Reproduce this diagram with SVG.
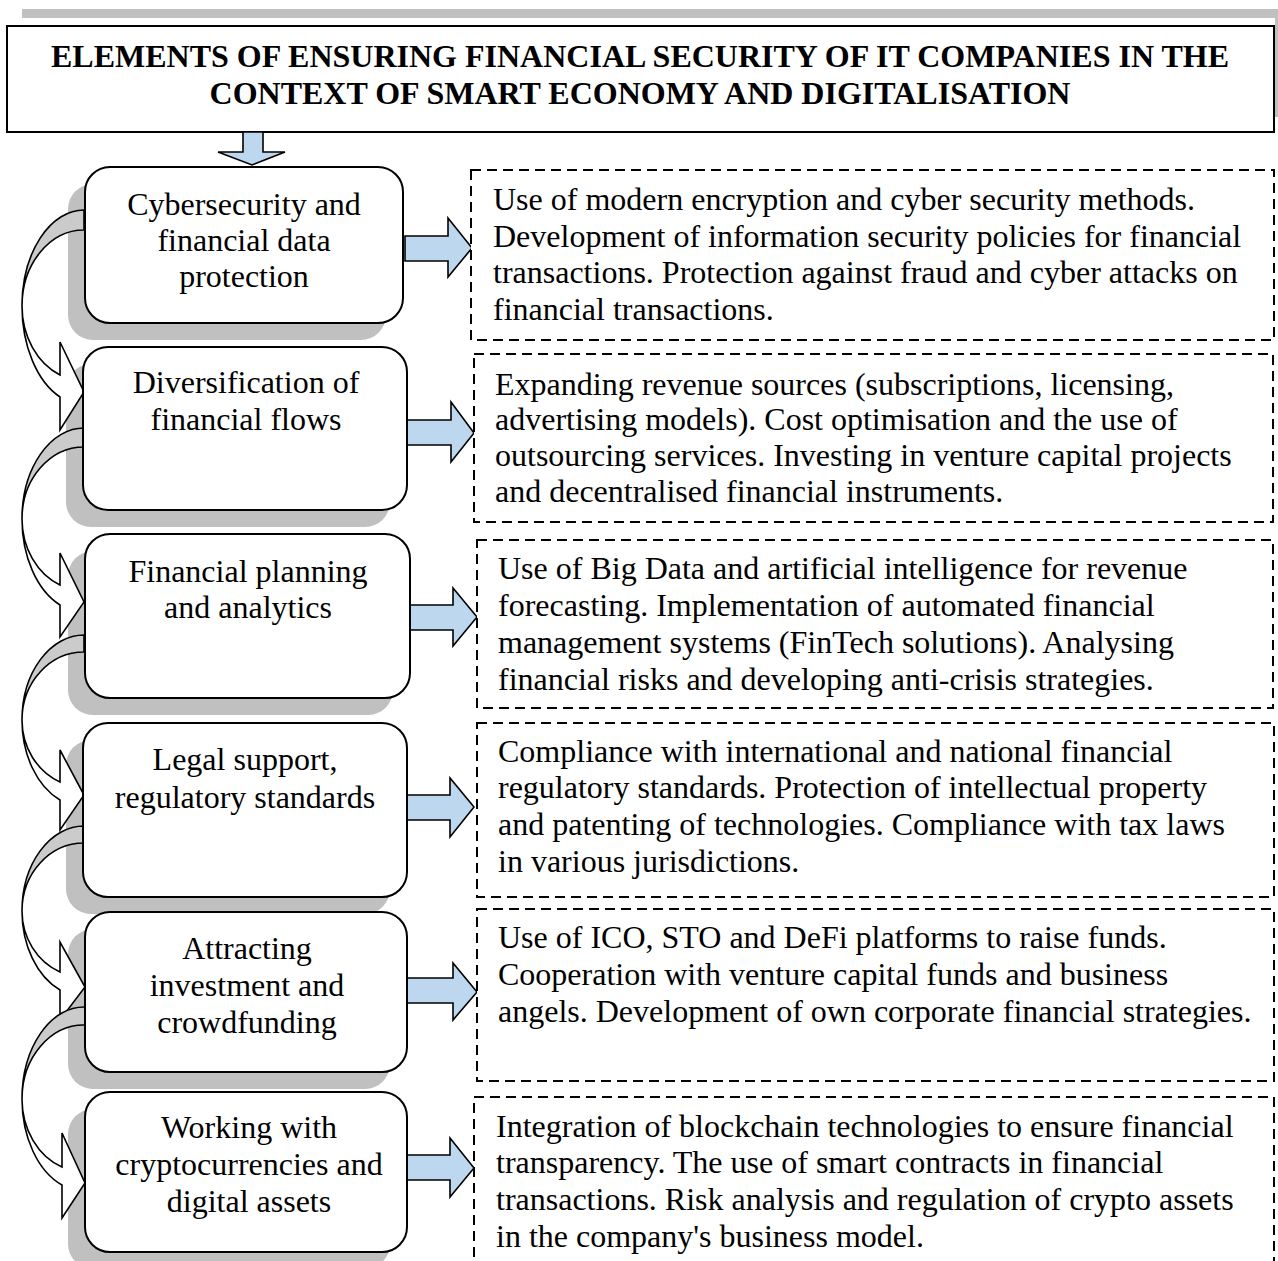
<svg xmlns="http://www.w3.org/2000/svg" width="1278" height="1261" viewBox="0 0 1278 1261">
  <style>
    .t { font-family: "Liberation Serif", "Times New Roman", serif; font-size: 32px; fill: #000; }
    .title { font-weight: bold; text-anchor: middle; }
    .node-text { text-anchor: middle; }
    .node { fill: #fff; stroke: #000; stroke-width: 2; }
    .shadow { fill: #c0c0c0; }
    .detail { fill: #fff; stroke: #000; stroke-width: 2; stroke-dasharray: 10 6; }
    .block { fill: #bdd7ee; stroke: #000; stroke-width: 1.6; stroke-linejoin: miter; }
    .back { fill: #cbcbcb; stroke: #000; stroke-width: 1.6; }
    .front { fill: #fff; stroke: #000; stroke-width: 1.6; stroke-linejoin: miter; }
  </style>

  <!-- title banner -->
  <g id="title">
    <rect x="22" y="9" width="1256" height="9" fill="#c0c0c0"/>
    <rect x="1275" y="18" width="3" height="99" fill="#c0c0c0"/>
    <rect x="7" y="26" width="1267" height="106" fill="#fff" stroke="#000" stroke-width="2"/>
    <text class="t title" x="640" y="67">ELEMENTS OF ENSURING FINANCIAL SECURITY OF IT COMPANIES IN THE</text>
    <text class="t title" x="640" y="104">CONTEXT OF SMART ECONOMY AND DIGITALISATION</text>
  </g>

  <!-- node shadows -->
  <g id="shadows">
    <rect class="shadow" x="68" y="184" width="318" height="156" rx="25"/>
    <rect class="shadow" x="66" y="364" width="324" height="163" rx="25"/>
    <rect class="shadow" x="68" y="551" width="325" height="164" rx="25"/>
    <rect class="shadow" x="66" y="740" width="324" height="174" rx="25"/>
    <rect class="shadow" x="68" y="929" width="322" height="160" rx="25"/>
    <rect class="shadow" x="68" y="1109" width="322" height="160" rx="25"/>
  </g>

  <!-- connectors -->
  <g id="connectors">
    <!-- downward block arrow from the title -->
    <polygon class="block" points="243,132 263,132 263,152 285,152 252,165 218,152 243,152"/>

    <!-- curved arrows linking consecutive elements -->
    <path class="back" d="M84 210 A62 96 0 0 0 22 306 A62 76 0 0 1 84 230 Z"/>
    <path class="front" d="M22 306 A62 98.7 0 0 0 60 397 L60 430 L84 392 L60 342 L60 375 A62 74.8 0 0 1 22 306 Z"/>

    <path class="back" d="M84 428 A62 91 0 0 0 22 519 A62 72 0 0 1 84 447 Z"/>
    <path class="front" d="M22 519 A62 93.3 0 0 0 60 605 L60 637 L84 602 L60 553 L60 585 A62 71.6 0 0 1 22 519 Z"/>

    <path class="back" d="M84 635 A62 85 0 0 0 22 720 A62 68 0 0 1 84 652 Z"/>
    <path class="front" d="M22 720 A62 86.8 0 0 0 60 800 L60 830 L84 795 L60 750 L60 782 A62 67.2 0 0 1 22 720 Z"/>

    <path class="back" d="M84 826 A62 85 0 0 0 22 911 A62 68 0 0 1 84 843 Z"/>
    <path class="front" d="M22 911 A62 85.7 0 0 0 60 990 L60 1020 L85 987 L60 942 L60 972 A62 66.2 0 0 1 22 911 Z"/>

    <path class="back" d="M85 1007 A62 92 0 0 0 22 1099 A62 74 0 0 1 85 1025 Z"/>
    <path class="front" d="M22 1099 A62 92 0 0 0 62 1185 L62 1218 L85 1183 L62 1133 L62 1167 A62 72.7 0 0 1 22 1099 Z"/>

    <!-- block arrows from each element to its details -->
    <polygon class="block" points="405,236 448,236 448,218 472,248 448,277 448,261 405,261"/>
    <polygon class="block" points="407,420 451,420 451,402 474,433 451,462 451,445 407,445"/>
    <polygon class="block" points="410,605 453,605 453,588 477,617 453,646 453,630 410,630"/>
    <polygon class="block" points="407,795 450,795 450,778 474,807 450,837 450,820 407,820"/>
    <polygon class="block" points="407,978 453,978 453,963 477,992 453,1020 453,1003 407,1003"/>
    <polygon class="block" points="407,1155 450,1155 450,1138 474,1168 450,1197 450,1180 407,1180"/>
  </g>

  <!-- element nodes -->
  <g id="node-cybersecurity">
    <rect class="node" x="85" y="167" width="318" height="156" rx="25"/>
    <text class="t node-text" x="244" y="215">Cybersecurity and</text>
    <text class="t node-text" x="244" y="251">financial data</text>
    <text class="t node-text" x="244" y="287">protection</text>
  </g>
  <g id="node-diversification">
    <rect class="node" x="83" y="347" width="324" height="163" rx="25"/>
    <text class="t node-text" x="246" y="393">Diversification of</text>
    <text class="t node-text" x="246" y="430">financial flows</text>
  </g>
  <g id="node-planning">
    <rect class="node" x="85" y="534" width="325" height="164" rx="25"/>
    <text class="t node-text" x="248" y="582">Financial planning</text>
    <text class="t node-text" x="248" y="618">and analytics</text>
  </g>
  <g id="node-legal">
    <rect class="node" x="83" y="723" width="324" height="174" rx="25"/>
    <text class="t node-text" x="245" y="770">Legal support,</text>
    <text class="t node-text" x="245" y="808">regulatory standards</text>
  </g>
  <g id="node-investment">
    <rect class="node" x="85" y="912" width="322" height="160" rx="25"/>
    <text class="t node-text" x="247" y="959">Attracting</text>
    <text class="t node-text" x="247" y="996">investment and</text>
    <text class="t node-text" x="247" y="1033">crowdfunding</text>
  </g>
  <g id="node-crypto">
    <rect class="node" x="85" y="1092" width="322" height="160" rx="25"/>
    <text class="t node-text" x="249" y="1138">Working with</text>
    <text class="t node-text" x="249" y="1175">cryptocurrencies and</text>
    <text class="t node-text" x="249" y="1212">digital assets</text>
  </g>

  <!-- detail boxes -->
  <g id="detail-cybersecurity">
    <rect class="detail" x="471" y="170" width="803" height="170"/>
    <text class="t" x="493" y="210">Use of modern encryption and cyber security methods.</text>
    <text class="t" x="493" y="247">Development of information security policies for financial</text>
    <text class="t" x="493" y="283">transactions. Protection against fraud and cyber attacks on</text>
    <text class="t" x="493" y="320">financial transactions.</text>
  </g>
  <g id="detail-diversification">
    <rect class="detail" x="474" y="354" width="799" height="168"/>
    <text class="t" x="495" y="395">Expanding revenue sources (subscriptions, licensing,</text>
    <text class="t" x="495" y="430">advertising models). Cost optimisation and the use of</text>
    <text class="t" x="495" y="466">outsourcing services. Investing in venture capital projects</text>
    <text class="t" x="495" y="502">and decentralised financial instruments.</text>
  </g>
  <g id="detail-planning">
    <rect class="detail" x="477" y="540" width="796" height="168"/>
    <text class="t" x="498" y="579">Use of Big Data and artificial intelligence for revenue</text>
    <text class="t" x="498" y="616">forecasting. Implementation of automated financial</text>
    <text class="t" x="498" y="653">management systems (FinTech solutions). Analysing</text>
    <text class="t" x="498" y="690">financial risks and developing anti-crisis strategies.</text>
  </g>
  <g id="detail-legal">
    <rect class="detail" x="477" y="723" width="797" height="174"/>
    <text class="t" x="498" y="762">Compliance with international and national financial</text>
    <text class="t" x="498" y="798">regulatory standards. Protection of intellectual property</text>
    <text class="t" x="498" y="835">and patenting of technologies. Compliance with tax laws</text>
    <text class="t" x="498" y="872">in various jurisdictions.</text>
  </g>
  <g id="detail-investment">
    <rect class="detail" x="477" y="909" width="797" height="172"/>
    <text class="t" x="498" y="948">Use of ICO, STO and DeFi platforms to raise funds.</text>
    <text class="t" x="498" y="985">Cooperation with venture capital funds and business</text>
    <text class="t" x="498" y="1022">angels. Development of own corporate financial strategies.</text>
  </g>
  <g id="detail-crypto">
    <rect class="detail" x="474" y="1097" width="800" height="200"/>
    <text class="t" x="496" y="1137">Integration of blockchain technologies to ensure financial</text>
    <text class="t" x="496" y="1173">transparency. The use of smart contracts in financial</text>
    <text class="t" x="496" y="1210">transactions. Risk analysis and regulation of crypto assets</text>
    <text class="t" x="496" y="1247">in the company's business model.</text>
  </g>
</svg>
